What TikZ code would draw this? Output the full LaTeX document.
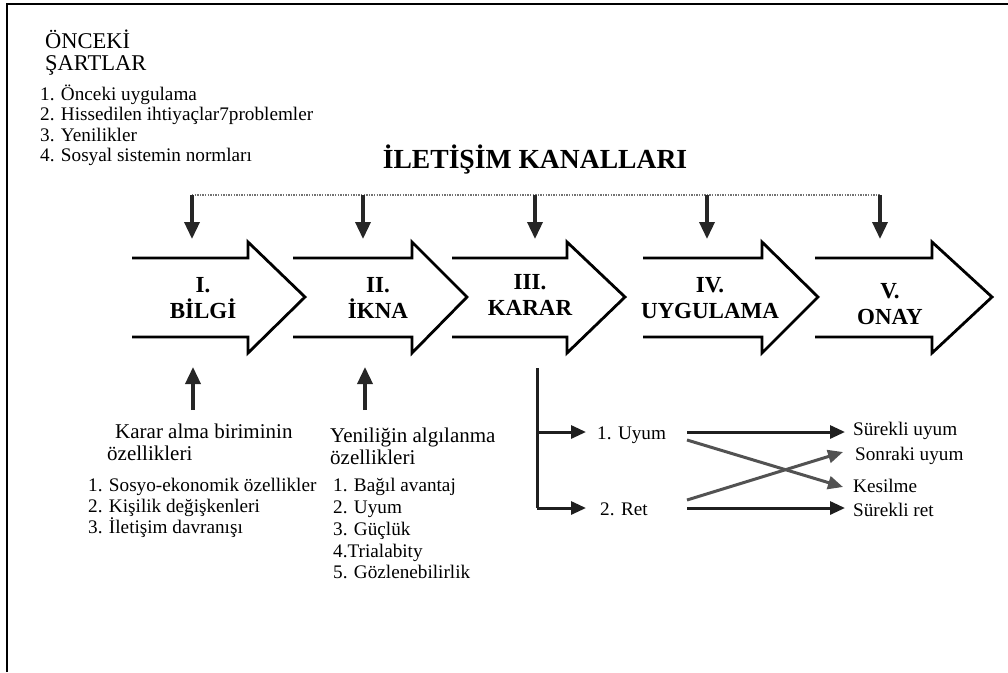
\documentclass[tikz,border=0pt]{standalone}
\usepackage{fontspec}
\setmainfont{Liberation Serif}
\usetikzlibrary{arrows.meta}
\begin{document}
\begin{tikzpicture}[x=1pt,y=-1pt,
  frameline/.style={line width=2.8pt, black},
  stagearrow/.style={line width=2.8pt, black, line join=miter},
  stagelabel/.style={font=\fontsize{23}{26}\selectfont\bfseries, align=center, inner sep=0pt},
  titlestyle/.style={font=\fontsize{27.6}{30}\selectfont\bfseries, inner sep=0pt},
  headtext/.style={font=\fontsize{22.5}{24}\selectfont, inner sep=0pt, anchor=base west},
  subhead/.style={font=\fontsize{21}{24}\selectfont, inner sep=0pt, anchor=base west},
  itemtext/.style={font=\fontsize{19.2}{21}\selectfont, inner sep=0pt, anchor=base west},
  chanarrow/.style={draw=black!85, line width=3.5pt, -{Triangle[length=17pt,width=15pt]}},
  feedarrow/.style={draw=black!85, line width=3.5pt, -{Triangle[length=17pt,width=15pt]}},
  darkarrow/.style={draw=black!88, line width=3pt, -{Triangle[length=15pt,width=13pt]}},
  grayarrow/.style={draw=black!68, line width=3pt, -{Triangle[length=15pt,width=13pt]}},
  dotline/.style={draw=black!55, line width=1.4pt, dash pattern=on 1.4pt off 1.2pt}
]
\useasboundingbox (0,0) rectangle (1008,672);

% outer frame (top and left edges)
\draw[frameline] (7,672) -- (7,4) -- (1008,4);

% prior conditions
\node[headtext] (oncekiA) at (45,48) {ÖNCEKİ};
\node[headtext] (oncekiB) at (45,70) {ŞARTLAR};
\node[itemtext] (on1) at (40,100) {1. Önceki uygulama};
\node[itemtext] (on2) at (40,120.5) {2. Hissedilen ihtiyaçlar7problemler};
\node[itemtext] (on3) at (40,141) {3. Yenilikler};
\node[itemtext] (on4) at (40,161.5) {4. Sosyal sistemin normları};

% communication channels
\node[titlestyle, anchor=base] (kanal) at (535,168) {İLETİŞİM KANALLARI};
\coordinate (c1) at (192,195);
\coordinate (c5) at (880,195);
\draw[dotline] (c1) -- (c5);

% the five stages
\foreach \n/\s/\h/\t in {1/132/248/305, 2/293/412/467, 3/452/567/625, 4/643/762/818, 5/815/932/992}{
  \draw[stagearrow] (\s,258) -- (\h,258) -- (\h,242) -- (\t,297) -- (\h,353) -- (\h,337) -- (\s,337);
}
\node[stagelabel] (st1) at (203,298) {I.\\BİLGİ};
\node[stagelabel] (st2) at (378,298) {II.\\İKNA};
\node[stagelabel] (st3) at (530,295) {III.\\KARAR};
\node[stagelabel] (st4) at (710,298) {IV.\\UYGULAMA};
\node[stagelabel] (st5) at (890,304) {V.\\ONAY};

% channel arrows down to each stage
\foreach \n/\x in {1/192, 2/363, 3/535, 4/707, 5/880}{
  \coordinate (ch\n) at (\x,195);
  \coordinate (in\n) at (\x,239);
  \draw[chanarrow] (ch\n) -- (in\n);
}

% characteristics feeding the first two stages
\coordinate (up1a) at (193,410);
\coordinate (up1b) at (193,367);
\coordinate (up2a) at (365,410);
\coordinate (up2b) at (365,367);
\draw[feedarrow] (up1a) -- (up1b);
\draw[feedarrow] (up2a) -- (up2b);

\node[subhead] (karar1) at (115,438) {Karar alma biriminin};
\node[subhead] (karar2) at (107,460) {özellikleri};
\node[itemtext] (k1) at (88,491) {1. Sosyo-ekonomik özellikler};
\node[itemtext] (k2) at (88,512) {2. Kişilik değişkenleri};
\node[itemtext] (k3) at (88,533) {3. İletişim davranışı};

\node[subhead] (yeni1) at (330,442) {Yeniliğin algılanma};
\node[subhead] (yeni2) at (330,464) {özellikleri};
\node[itemtext] (y1) at (333,491) {1. Bağıl avantaj};
\node[itemtext] (y2) at (333,513) {2. Uyum};
\node[itemtext] (y3) at (333,535) {3. Güçlük};
\node[itemtext] (y4) at (333,557) {4.Trialabity};
\node[itemtext] (y5) at (333,578) {5. Gözlenebilirlik};

% decision branches
\node[itemtext] (uyum) at (597,439) {1. Uyum};
\node[itemtext] (ret) at (600,515) {2. Ret};
\node[itemtext] (surekliuyum) at (853,435) {Sürekli uyum};
\node[itemtext] (sonraki) at (855,460) {Sonraki uyum};
\node[itemtext] (kesilme) at (853,492) {Kesilme};
\node[itemtext] (surekliret) at (853,516) {Sürekli ret};

\coordinate (forktop) at (537,368);
\coordinate (fork1) at (537,432);
\coordinate (fork2) at (537,508);
\coordinate (to1) at (586,432);
\coordinate (to2) at (586,508);
\draw[black!88, line width=3pt] (forktop) -- (fork2);
\draw[darkarrow] (fork1) -- (to1);
\draw[darkarrow] (fork2) -- (to2);

\coordinate (uyumA) at (687,432);
\coordinate (uyumB) at (687,440);
\coordinate (retA) at (687,508);
\coordinate (retB) at (687,500);
\coordinate (suA) at (845,432);
\coordinate (soA) at (843,452);
\coordinate (keA) at (843,487);
\coordinate (srA) at (845,508);
\draw[darkarrow] (uyumA) -- (suA);
\draw[grayarrow] (uyumB) -- (keA);
\draw[grayarrow] (retB) -- (soA);
\draw[darkarrow] (retA) -- (srA);
\end{tikzpicture}
\end{document}
